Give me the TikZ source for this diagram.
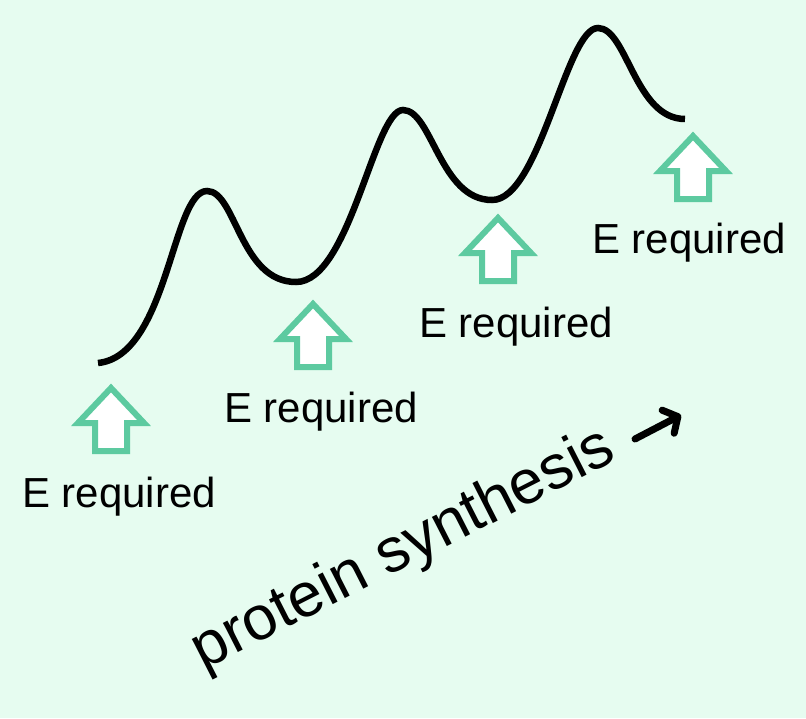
\documentclass[tikz,border=0pt]{standalone}
\usepackage{fontspec}
\setmainfont{Liberation Sans}
\usetikzlibrary{arrows.meta}
\definecolor{bgmint}{RGB}{230,252,240}
\definecolor{arrowgreen}{RGB}{93,202,160}
\tikzset{
  energyarrow/.style={draw=arrowgreen, fill=white, line width=6pt, line join=miter},
  curveline/.style={line width=6.5pt},
  labeltext/.style={font=\fontsize{42}{50}\selectfont, inner sep=0pt, anchor=base},
}
% block arrow: #1 centre x, #2 tip y
\newcommand{\energybox}[2]{%
  \draw[energyarrow] (#1,#2+4) -- ++(33,35) -- ++(-17,0) -- ++(0,28) -- ++(-32,0)
    -- ++(0,-28) -- ++(-17,0) -- cycle;
}
\begin{document}
\begin{tikzpicture}[x=1pt, y=-1pt]
  \fill[bgmint] (0,0) rectangle (806,718);
  \useasboundingbox (0,0) rectangle (806,718);

  % the curve
  \coordinate (start) at (98,363);
  \coordinate (peakA) at (207,191);
  \coordinate (troughA) at (296,282);
  \coordinate (peakB) at (403,110);
  \coordinate (troughB) at (492,200);
  \coordinate (peakC) at (598,28);
  \coordinate (finish) at (685,119);
  \draw[curveline] (start) .. controls (168,356) and (172,191) .. (peakA)
    .. controls (236,191) and (240,282) .. (troughA)
    .. controls (350,282) and (374,110) .. (peakB)
    .. controls (432,110) and (440,200) .. (troughB)
    .. controls (540,200) and (566,28) .. (peakC)
    .. controls (627,28) and (635,119) .. (finish);

  % energy arrows and labels
  \foreach \cx/\ty/\lx/\ly [count=\i] in {111/384/119/507, 313/300/321/422,
      498/214/516/337, 693/132/689/253} {
    \energybox{\cx}{\ty}
    \node[labeltext] (req\i) at (\lx,\ly) {E required};
  }

  % axis label
  \node[font=\fontsize{62}{74}\selectfont, rotate=27, anchor=base, inner sep=0pt]
    (synth) at (411,565) {protein synthesis};
  \coordinate (dirtail) at (635,439);
  \coordinate (dirhead) at (681,415);
  \draw[line width=7pt, line cap=round, -{Straight Barb[length=11pt,width=26pt,round]}]
    (dirtail) -- (dirhead);
\end{tikzpicture}
\end{document}
